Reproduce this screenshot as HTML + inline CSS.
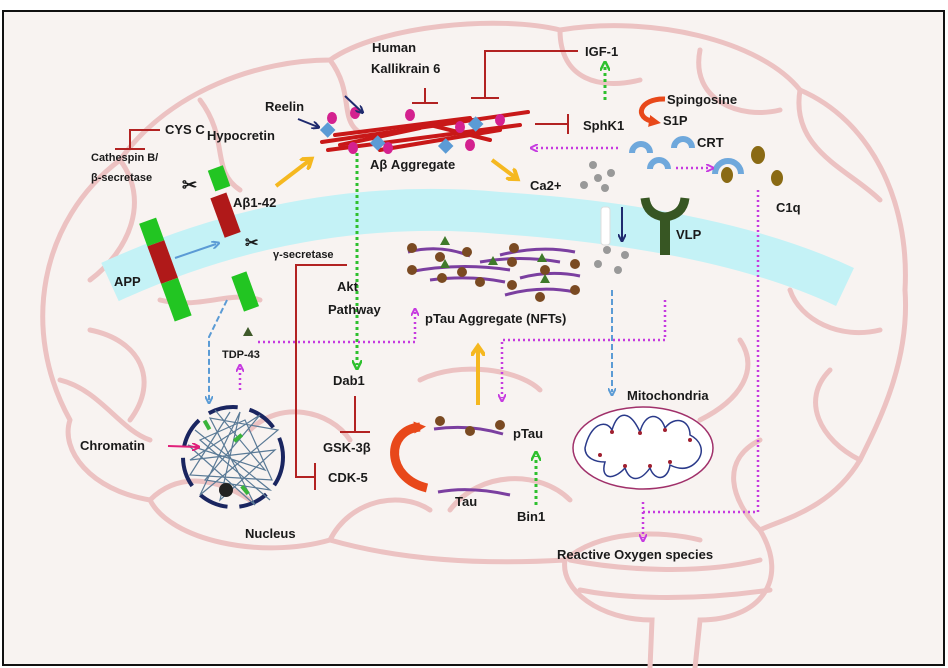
<!DOCTYPE html>
<html><head><meta charset="utf-8"><style>
html,body{margin:0;padding:0;background:#fff}
svg{display:block}
text{font-family:"Liberation Sans",sans-serif;font-weight:bold;fill:#1a1a1a}
</style></head><body>
<svg width="948" height="668" viewBox="0 0 948 668" xmlns="http://www.w3.org/2000/svg">
<defs>
<marker id="mg" markerWidth="8" markerHeight="8" refX="4" refY="4" orient="auto" markerUnits="userSpaceOnUse"><path d="M0,0 L8,4 L0,8" fill="none" stroke="#c63ae0" stroke-width="2"/></marker>
<marker id="gg" markerWidth="10" markerHeight="10" refX="5" refY="5" orient="auto" markerUnits="userSpaceOnUse"><path d="M0,0 L10,5 L0,10" fill="none" stroke="#2ec02e" stroke-width="2.5"/></marker>
<marker id="bb" markerWidth="8" markerHeight="8" refX="4" refY="4" orient="auto" markerUnits="userSpaceOnUse"><path d="M0,0 L8,4 L0,8" fill="none" stroke="#5b9bd5" stroke-width="2"/></marker>
<marker id="nb" markerWidth="8" markerHeight="8" refX="6" refY="4" orient="auto" markerUnits="userSpaceOnUse"><path d="M0,0 L8,4 L0,8" fill="none" stroke="#1f2a6e" stroke-width="2"/></marker>
<marker id="pk" markerWidth="8" markerHeight="8" refX="6" refY="4" orient="auto" markerUnits="userSpaceOnUse"><path d="M0,0 L8,4 L0,8" fill="none" stroke="#e0207a" stroke-width="2"/></marker>
<marker id="yw" markerWidth="14" markerHeight="14" refX="8" refY="7" orient="auto" markerUnits="userSpaceOnUse"><path d="M0,0 L10,7 L0,14" fill="none" stroke="#f5b820" stroke-width="4"/></marker>
<marker id="or" markerWidth="12" markerHeight="12" refX="6" refY="6" orient="auto" markerUnits="userSpaceOnUse"><path d="M0,0 L12,6 L0,12 Z" fill="#e8481a"/></marker>
</defs>
<rect x="0" y="0" width="948" height="668" fill="#fff"/>
<rect x="3" y="11" width="941" height="654" fill="#f8f3f1" stroke="#111" stroke-width="2"/>
<g fill="none" stroke="#ecc2c2" stroke-width="5" stroke-linecap="round">
<path d="M70,420 C20,330 40,220 120,160 C170,90 260,60 330,60 C380,25 500,15 560,30 C650,15 760,40 800,90 C870,120 910,200 905,290 C910,360 880,420 860,460 C830,510 780,520 760,530 C790,580 760,620 700,620 L695,668 M650,668 L652,620 C600,620 560,590 565,560 C480,565 400,560 330,540 C260,560 170,540 150,500 C90,490 60,450 70,420"/>
<path d="M120,160 C150,200 130,250 90,280 M200,100 C230,140 210,170 240,190 M330,60 C360,100 330,130 380,140 M560,30 C560,80 600,90 640,80 M700,50 C690,100 740,120 780,110 M800,90 C790,150 850,170 880,200 M90,330 C140,340 160,380 130,420 M60,380 C100,390 120,430 150,440 M150,500 C180,470 220,480 250,500 M330,540 C350,500 400,490 430,510 M565,560 C600,530 660,530 700,540 M760,530 C730,500 720,460 760,440 M860,460 C820,440 800,400 830,370 M880,330 C840,340 800,320 790,290 M570,560 C620,570 700,575 760,560 M580,590 C630,600 700,600 770,590 M450,510 C480,470 540,470 570,500 M250,430 C280,400 330,410 350,440 M420,380 C460,360 520,370 540,390 M700,420 C740,400 760,370 740,340 M160,300 C200,310 230,290 260,300"/>
</g>
<path d="M110,282 Q300,195 500,213 Q720,228 845,287" fill="none" stroke="#c4f2f6" stroke-width="42"/>
<g transform="rotate(-20 163 263)"><rect x="154" y="218" width="18" height="24" fill="#22c522"/><rect x="154" y="242" width="18" height="40" fill="#b01919"/><rect x="154" y="282" width="18" height="40" fill="#22c522"/></g>
<g transform="rotate(-20 220 178)"><rect x="211" y="167" width="16" height="22" fill="#22c522"/></g>
<g transform="rotate(-20 226 215)"><rect x="217" y="194" width="17" height="42" fill="#b01919"/></g>
<g transform="rotate(-20 245 291)"><rect x="237" y="273" width="16" height="37" fill="#22c522"/></g>
<line x1="175" y1="258" x2="216" y2="244" stroke="#5b9bd5" stroke-width="2" marker-end="url(#bb)"/>
<text x="182" y="191" font-size="18" font-weight="normal">✂</text>
<text x="245" y="248" font-size="16" font-weight="normal">✂</text>
<g stroke="#b22222" stroke-width="2" fill="none">
<path d="M160,130 H130 V148 M115,149 H145"/>
<path d="M425,88 V103 M412,103 H438"/>
<path d="M578,51 H485 V98 M471,98 H499"/>
<path d="M535,124 H568 M568,114 V134"/>
<path d="M347,265 H296 V477 H315 M315,463 V490"/>
<path d="M355,396 V432 M340,432 H370"/>
</g>
<g stroke="#c81818" stroke-width="4" stroke-linecap="round">
<line x1="322" y1="142" x2="528" y2="112"/><line x1="328" y1="150" x2="520" y2="125"/><line x1="335" y1="135" x2="470" y2="118"/>
<line x1="340" y1="145" x2="420" y2="128"/><line x1="380" y1="150" x2="500" y2="130"/><line x1="430" y1="125" x2="490" y2="140"/>
</g>
<g fill="#d4218f"><ellipse cx="332" cy="118" rx="5" ry="6"/><ellipse cx="355" cy="113" rx="5" ry="6"/><ellipse cx="353" cy="148" rx="5" ry="6"/><ellipse cx="388" cy="148" rx="5" ry="6"/><ellipse cx="410" cy="115" rx="5" ry="6"/><ellipse cx="460" cy="127" rx="5" ry="6"/><ellipse cx="470" cy="145" rx="5" ry="6"/><ellipse cx="500" cy="120" rx="5" ry="6"/></g>
<g fill="#5b9bd5"><rect x="322" y="124" width="11" height="11" transform="rotate(45 327 130)"/><rect x="372" y="137" width="11" height="11" transform="rotate(45 377 143)"/><rect x="440" y="140" width="11" height="11" transform="rotate(45 445 146)"/><rect x="470" y="118" width="11" height="11" transform="rotate(45 475 124)"/></g>
<line x1="345" y1="96" x2="362" y2="112" stroke="#1f2a6e" stroke-width="2" marker-end="url(#nb)"/>
<line x1="298" y1="119" x2="318" y2="127" stroke="#1f2a6e" stroke-width="2" marker-end="url(#nb)"/>
<line x1="276" y1="186" x2="310" y2="160" stroke="#f5b820" stroke-width="4" marker-end="url(#yw)"/>
<line x1="492" y1="160" x2="516" y2="178" stroke="#f5b820" stroke-width="4" marker-end="url(#yw)"/>
<line x1="605" y1="100" x2="605" y2="66" stroke="#2ec02e" stroke-width="3" stroke-dasharray="3,3" marker-end="url(#gg)"/>
<path d="M665,99 C640,98 632,118 655,122" fill="none" stroke="#e8481a" stroke-width="5" marker-end="url(#or)"/>
<g fill="none" stroke="#6fa8dc" stroke-width="6"><path d="M632,153 A9,9 0 0 1 650,153"/><path d="M674,148 A9,9 0 0 1 692,148"/><path d="M650,169 A9,9 0 0 1 668,169"/><path d="M715,174 A13,13 0 0 1 741,174"/></g>
<g fill="#8a6a14"><ellipse cx="727" cy="175" rx="6" ry="8"/><ellipse cx="758" cy="155" rx="7" ry="9"/><ellipse cx="777" cy="178" rx="6" ry="8"/></g>
<line x1="618" y1="148" x2="534" y2="148" stroke="#c63ae0" stroke-width="2.5" stroke-dasharray="2,3" marker-end="url(#mg)"/>
<line x1="676" y1="168" x2="710" y2="168" stroke="#c63ae0" stroke-width="2.5" stroke-dasharray="2,3" marker-end="url(#mg)"/>
<g fill="#999"><circle cx="593" cy="165" r="4"/><circle cx="598" cy="178" r="4"/><circle cx="611" cy="173" r="4"/><circle cx="584" cy="185" r="4"/><circle cx="605" cy="188" r="4"/><circle cx="607" cy="250" r="4"/><circle cx="625" cy="255" r="4"/><circle cx="598" cy="264" r="4"/><circle cx="618" cy="270" r="4"/></g>
<rect x="601" y="207" width="9" height="38" rx="3" fill="#fff" stroke="#ddd"/>
<line x1="622" y1="207" x2="622" y2="240" stroke="#1f2a6e" stroke-width="2" marker-end="url(#nb)"/>
<path d="M645,198 Q647,215 665,217 Q683,215 685,198" fill="none" stroke="#375623" stroke-width="9"/>
<rect x="660" y="215" width="10" height="40" fill="#375623"/>
<g fill="none" stroke="#7b3fa0" stroke-width="3">
<path d="M408,252 Q440,244 470,256"/><path d="M408,272 Q460,262 510,270"/><path d="M480,262 Q520,255 560,262"/><path d="M520,278 Q550,270 580,276"/><path d="M500,255 Q540,245 575,252"/><path d="M430,280 Q470,275 505,282"/><path d="M505,295 Q540,285 575,292"/>
</g>
<g fill="#7a4a22"><circle cx="412" cy="248" r="5"/><circle cx="440" cy="257" r="5"/><circle cx="467" cy="252" r="5"/><circle cx="412" cy="270" r="5"/><circle cx="442" cy="278" r="5"/><circle cx="462" cy="272" r="5"/><circle cx="480" cy="282" r="5"/><circle cx="512" cy="262" r="5"/><circle cx="545" cy="270" r="5"/><circle cx="575" cy="264" r="5"/><circle cx="512" cy="285" r="5"/><circle cx="540" cy="297" r="5"/><circle cx="575" cy="290" r="5"/><circle cx="514" cy="248" r="5"/></g>
<g fill="#3f7a2a"><path d="M440,245 l5,-9 l5,9z"/><path d="M440,268 l5,-9 l5,9z"/><path d="M488,265 l5,-9 l5,9z"/><path d="M537,262 l5,-9 l5,9z"/><path d="M540,283 l5,-9 l5,9z"/></g>
<line x1="357" y1="153" x2="357" y2="365" stroke="#2ec02e" stroke-width="3" stroke-dasharray="3,3" marker-end="url(#gg)"/>
<path d="M243,336 l5,-9 l5,9z" fill="#3f5a2a"/>
<path d="M258,342 H415 V312" fill="none" stroke="#c63ae0" stroke-width="2.5" stroke-dasharray="2,3" marker-end="url(#mg)"/>
<line x1="240" y1="390" x2="240" y2="368" stroke="#c63ae0" stroke-width="2.5" stroke-dasharray="2,3" marker-end="url(#mg)"/>
<path d="M665,300 V340 H502 V398" fill="none" stroke="#c63ae0" stroke-width="2.5" stroke-dasharray="2,3" marker-end="url(#mg)"/>
<path d="M758,190 V512 H643" fill="none" stroke="#c63ae0" stroke-width="2.5" stroke-dasharray="2,3"/>
<line x1="643" y1="502" x2="643" y2="538" stroke="#c63ae0" stroke-width="2.5" stroke-dasharray="2,3" marker-end="url(#mg)"/>
<path d="M227,300 L209,337 V400" fill="none" stroke="#5b9bd5" stroke-width="2" stroke-dasharray="6,3" marker-end="url(#bb)"/>
<line x1="612" y1="290" x2="612" y2="392" stroke="#5b9bd5" stroke-width="2" stroke-dasharray="6,3" marker-end="url(#bb)"/>
<circle cx="233" cy="457" r="50" fill="none" stroke="#1a2560" stroke-width="4" stroke-dasharray="30,12"/>
<g fill="none" stroke="#5a7a96" stroke-width="1.2">
<path d="M195,430 L270,490 L205,480 L260,415 L190,460 L275,450 L220,500 L240,412 L200,495 L278,430 L210,418 L255,505 L188,445 L265,470 L215,410"/>
<path d="M230,412 L190,475 L272,480 L245,420 L200,440 L270,500"/>
</g>
<circle cx="226" cy="490" r="7" fill="#222"/>
<g fill="#3ab43a"><rect x="205" y="420" width="4" height="10" transform="rotate(-30 207 425)"/><rect x="236" y="433" width="4" height="10" transform="rotate(50 238 438)"/><rect x="243" y="485" width="4" height="10" transform="rotate(-40 245 490)"/></g>
<line x1="168" y1="446" x2="198" y2="447" stroke="#e0207a" stroke-width="2" marker-end="url(#pk)"/>
<path d="M427,488 C385,478 385,430 420,427" fill="none" stroke="#e8481a" stroke-width="9" marker-end="url(#or)"/>
<path d="M434,429 Q470,424 503,434" fill="none" stroke="#7b3fa0" stroke-width="3"/>
<g fill="#7a4a22"><circle cx="440" cy="421" r="5"/><circle cx="470" cy="431" r="5"/><circle cx="500" cy="425" r="5"/></g>
<path d="M438,492 Q470,486 510,495" fill="none" stroke="#7b3fa0" stroke-width="3"/>
<line x1="536" y1="505" x2="536" y2="456" stroke="#2ec02e" stroke-width="3" stroke-dasharray="3,3" marker-end="url(#gg)"/>
<line x1="478" y1="405" x2="478" y2="348" stroke="#f5b820" stroke-width="4" marker-end="url(#yw)"/>
<ellipse cx="643" cy="448" rx="70" ry="41" fill="#fff" stroke="#a0306a" stroke-width="1.5"/>
<path d="M585,448 C590,425 605,418 612,430 C618,410 630,410 640,432 C645,412 660,412 665,428 C675,415 690,420 690,435 C700,440 705,450 698,460 C690,470 680,470 670,465 C668,480 655,482 650,468 C640,482 630,482 625,468 C612,482 600,478 605,462 C595,462 585,458 585,448Z" fill="none" stroke="#2a3a8a" stroke-width="1.5"/>
<g fill="#a02030"><circle cx="612" cy="432" r="2"/><circle cx="640" cy="433" r="2"/><circle cx="665" cy="430" r="2"/><circle cx="690" cy="440" r="2"/><circle cx="670" cy="462" r="2"/><circle cx="650" cy="466" r="2"/><circle cx="625" cy="466" r="2"/><circle cx="600" cy="455" r="2"/></g>
<g font-size="13">
<text x="372" y="52">Human</text><text x="371" y="73">Kallikrain 6</text>
<text x="585" y="56">IGF-1</text>
<text x="265" y="111">Reelin</text><text x="207" y="140">Hypocretin</text>
<text x="667" y="104">Spingosine</text><text x="663" y="125">S1P</text><text x="583" y="130">SphK1</text><text x="697" y="147">CRT</text>
<text x="165" y="134">CYS C</text>
<text x="370" y="169">Aβ Aggregate</text><text x="530" y="190">Ca2+</text><text x="776" y="212">C1q</text>
<text x="233" y="207">Aβ1-42</text><text x="676" y="239">VLP</text><text x="114" y="286">APP</text>
<text x="337" y="291">Akt</text><text x="328" y="314">Pathway</text>
<text x="425" y="323">pTau Aggregate (NFTs)</text>
<text x="333" y="385">Dab1</text><text x="627" y="400">Mitochondria</text>
<text x="80" y="450">Chromatin</text><text x="323" y="452">GSK-3β</text><text x="513" y="438">pTau</text>
<text x="328" y="482">CDK-5</text><text x="455" y="506">Tau</text><text x="517" y="521">Bin1</text>
<text x="245" y="538">Nucleus</text><text x="557" y="559">Reactive Oxygen species</text>
</g>
<g font-size="11">
<text x="91" y="161">Cathespin B/</text><text x="91" y="181">β-secretase</text>
<text x="273" y="258">γ-secretase</text><text x="222" y="358">TDP-43</text>
</g>
</svg>
</body></html>
